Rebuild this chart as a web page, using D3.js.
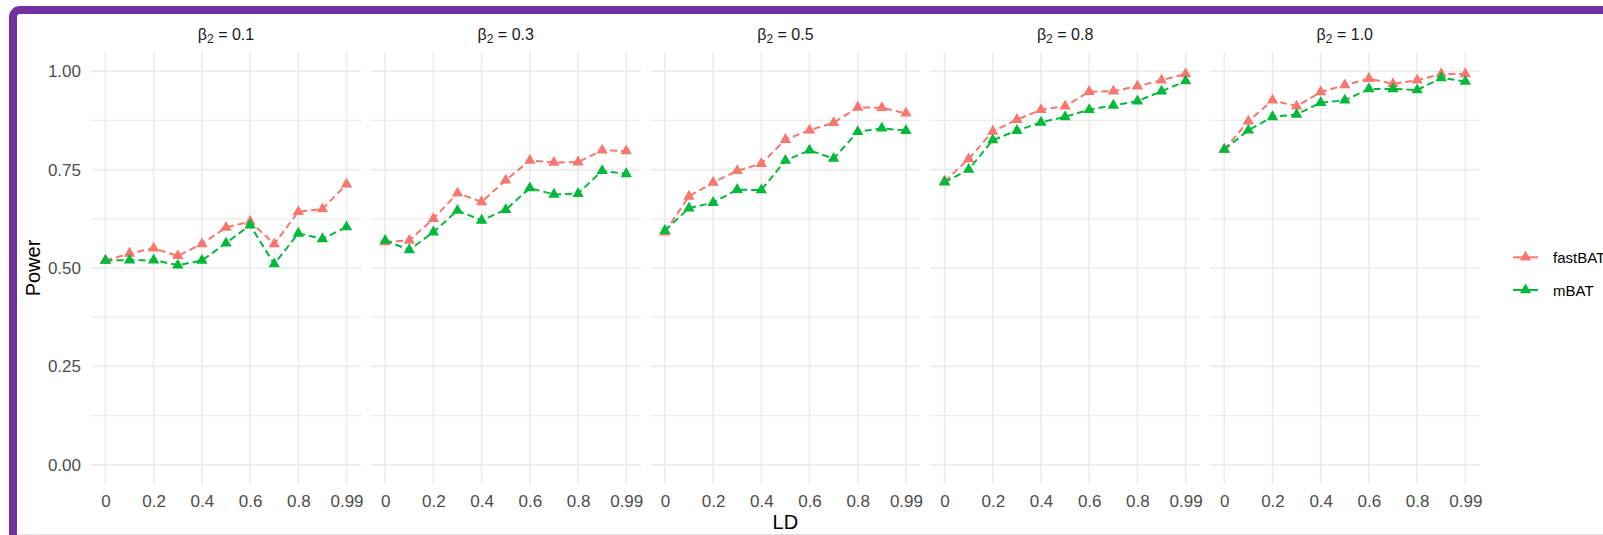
<!DOCTYPE html>
<html>
<head>
<meta charset="utf-8">
<script src="https://cdn.jsdelivr.net/npm/d3@7"></script>
<style>
  body { margin: 0; background: #fff; }
  svg { display: block; font-family: "Liberation Sans", Arial, sans-serif; }
</style>
</head>
<body>
<svg id="chart" width="1603" height="535"></svg>
<script>
// x levels (discrete), tick labels shown
const ldLevels = ["0", "0.1", "0.2", "0.3", "0.4", "0.5", "0.6", "0.7", "0.8", "0.9", "0.99"];
const ldTicks = ["0", "0.2", "0.4", "0.6", "0.8", "0.99"];
const betaValues = ["0.1", "0.3", "0.5", "0.8", "1.0"];
const powerTicks = [0, 0.25, 0.5, 0.75, 1.0];
const powerMinor = [0.125, 0.375, 0.625, 0.875];
const methods = ["fastBAT", "mBAT"];
const methodColors = ["#F8766D", "#00BA38"];

// power per LD level, one array per beta2 panel
const fastBAT_b01 = [0.519, 0.537, 0.550, 0.531, 0.561, 0.603, 0.618, 0.561, 0.643, 0.650, 0.713];
const fastBAT_b03 = [0.566, 0.570, 0.625, 0.690, 0.668, 0.723, 0.773, 0.768, 0.769, 0.799, 0.797];
const fastBAT_b05 = [0.591, 0.682, 0.717, 0.747, 0.765, 0.826, 0.850, 0.869, 0.908, 0.907, 0.893];
const fastBAT_b08 = [0.720, 0.777, 0.847, 0.877, 0.902, 0.911, 0.948, 0.949, 0.962, 0.977, 0.993];
const fastBAT_b10 = [0.801, 0.873, 0.926, 0.911, 0.947, 0.965, 0.981, 0.968, 0.977, 0.993, 0.993];

const mBAT_b01 = [0.519, 0.520, 0.520, 0.507, 0.519, 0.563, 0.609, 0.510, 0.588, 0.574, 0.604];
const mBAT_b03 = [0.570, 0.546, 0.591, 0.646, 0.621, 0.648, 0.703, 0.687, 0.689, 0.747, 0.739];
const mBAT_b05 = [0.595, 0.652, 0.666, 0.699, 0.698, 0.773, 0.799, 0.778, 0.846, 0.855, 0.849];
const mBAT_b08 = [0.718, 0.750, 0.825, 0.849, 0.870, 0.884, 0.902, 0.913, 0.924, 0.949, 0.975];
const mBAT_b10 = [0.801, 0.850, 0.884, 0.890, 0.920, 0.926, 0.955, 0.955, 0.952, 0.983, 0.974];

const fastBATSeries = [fastBAT_b01, fastBAT_b03, fastBAT_b05, fastBAT_b08, fastBAT_b10];
const mBATSeries = [mBAT_b01, mBAT_b03, mBAT_b05, mBAT_b08, mBAT_b10];

const svg = d3.select("#chart");
const W = 1603, H = 535;

// frame
svg.append("rect").attr("width", W).attr("height", H).attr("fill", "#fff");
svg.append("line")
  .attr("x1", 13).attr("x2", W).attr("y1", 534.5).attr("y2", 534.5)
  .attr("stroke", "#e4e4ee").attr("stroke-width", 1);
svg.append("rect")
  .attr("x", 13).attr("y", 10)
  .attr("width", W + 20).attr("height", H + 20)
  .attr("rx", 7)
  .attr("fill", "none")
  .attr("stroke", "#7030A0")
  .attr("stroke-width", 8);

const panelLeft = 91, panelW = 270, panelGap = 9.7;
const panelTop = 51.5, panelBottom = 484.5;
const gridCol = "#ebebeb";

const y = d3.scaleLinear().domain([-0.05, 1.05]).range([panelBottom, panelTop]);
const tri = d3.symbol().type(d3.symbolTriangle).size(56);

betaValues.forEach((beta, i) => {
  const x0 = panelLeft + i * (panelW + panelGap);
  const x = d3.scalePoint().domain(ldLevels).range([x0, x0 + panelW]).padding(0.6);
  const g = svg.append("g");

  // minor + major horizontal grid
  g.selectAll(".minor").data(powerMinor).enter().append("line")
    .attr("x1", x0).attr("x2", x0 + panelW)
    .attr("y1", d => y(d)).attr("y2", d => y(d))
    .attr("stroke", gridCol).attr("stroke-width", 1.3);
  g.selectAll(".major").data(powerTicks).enter().append("line")
    .attr("x1", x0).attr("x2", x0 + panelW)
    .attr("y1", d => y(d)).attr("y2", d => y(d))
    .attr("stroke", gridCol).attr("stroke-width", 1.6);
  g.selectAll(".vgrid").data(ldTicks).enter().append("line")
    .attr("x1", d => x(d)).attr("x2", d => x(d))
    .attr("y1", panelTop).attr("y2", panelBottom)
    .attr("stroke", gridCol).attr("stroke-width", 1.6);

  // x axis labels
  const xAxis = g.append("g")
    .attr("transform", `translate(0,${panelBottom})`)
    .call(d3.axisBottom(x).tickValues(ldTicks).tickSize(0).tickPadding(10));
  xAxis.select(".domain").remove();
  xAxis.selectAll("text")
    .attr("font-size", 17).attr("fill", "#4d4d4d")
    .attr("font-family", "Liberation Sans, Arial, sans-serif");

  // strip label
  const strip = g.append("text")
    .attr("x", x0 + panelW / 2).attr("y", 40)
    .attr("text-anchor", "middle")
    .attr("font-size", 16).attr("fill", "#1a1a1a");
  strip.append("tspan").text("β");
  strip.append("tspan").attr("font-size", 12).attr("dy", 3).text("2");
  strip.append("tspan").attr("dy", -3).text(" = " + beta);

  // lines then points
  const series = [fastBATSeries[i], mBATSeries[i]];
  const line = d3.line().x((d, k) => x(ldLevels[k])).y(d => y(d));
  series.forEach((vals, m) => {
    g.append("path").datum(vals)
      .attr("d", line)
      .attr("fill", "none")
      .attr("stroke", methodColors[m])
      .attr("stroke-width", 2)
      .attr("stroke-dasharray", "7,4");
  });
  series.forEach((vals, m) => {
    g.selectAll(".pt" + m).data(vals).enter().append("path")
      .attr("d", tri)
      .attr("transform", (d, k) => `translate(${x(ldLevels[k])},${y(d)})`)
      .attr("fill", methodColors[m]);
  });
});

// y axis labels (left panel only)
const yAxis = svg.append("g")
  .attr("transform", `translate(${panelLeft},0)`)
  .call(d3.axisLeft(y).tickValues(powerTicks).tickFormat(d3.format(".2f")).tickSize(0).tickPadding(10));
yAxis.select(".domain").remove();
yAxis.selectAll("text")
  .attr("font-size", 17).attr("fill", "#4d4d4d")
  .attr("font-family", "Liberation Sans, Arial, sans-serif");

// axis titles
svg.append("text")
  .attr("transform", `translate(40,${(panelTop + panelBottom) / 2}) rotate(-90)`)
  .attr("text-anchor", "middle")
  .attr("font-size", 20).attr("fill", "#000")
  .text("Power");
svg.append("text")
  .attr("x", panelLeft + (5 * panelW + 4 * panelGap) / 2).attr("y", 529)
  .attr("text-anchor", "middle")
  .attr("font-size", 20).attr("fill", "#000")
  .text("LD");

// legend (right edge crops the first label, as in the source image)
const legendY = [257.3, 290];
methods.forEach((name, m) => {
  const lg = svg.append("g").attr("transform", `translate(1513,${legendY[m]})`);
  lg.append("line").attr("x1", 0).attr("x2", 25).attr("y1", 0).attr("y2", 0)
    .attr("stroke", methodColors[m]).attr("stroke-width", 2);
  lg.append("path").attr("d", tri).attr("transform", "translate(12.5,0)")
    .attr("fill", methodColors[m]);
  lg.append("text").attr("x", 40).attr("y", 5.5)
    .attr("font-size", 15).attr("fill", "#000").text(name);
});
</script>
</body>
</html>
